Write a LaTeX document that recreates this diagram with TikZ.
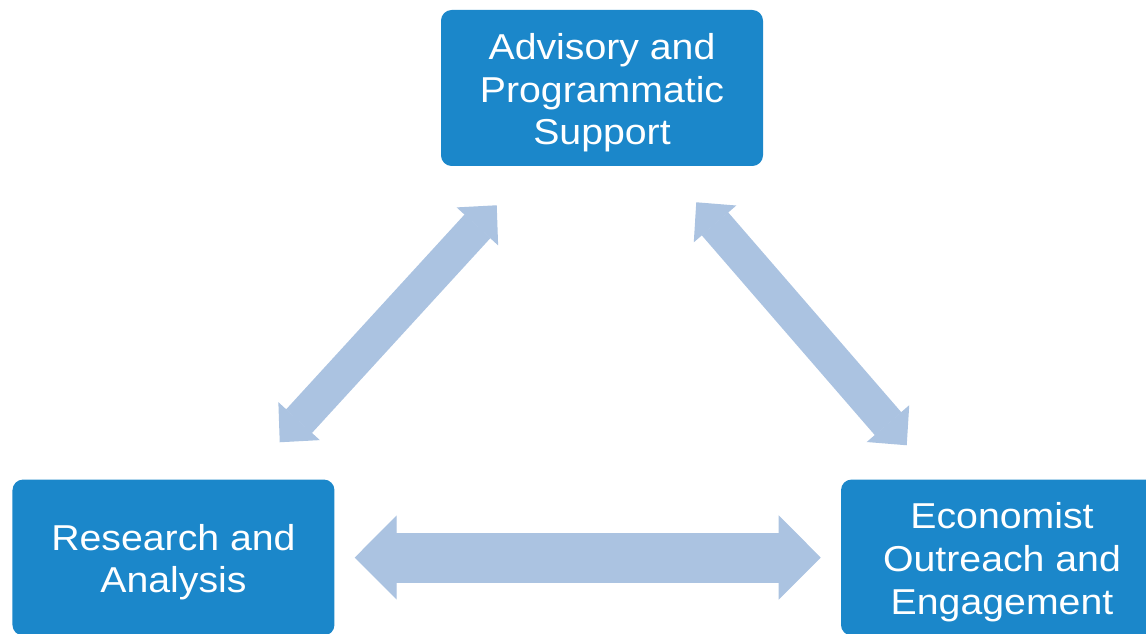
\documentclass[tikz,border=0pt]{standalone}
\usepackage{xcolor}
\usepackage{fontspec}
\setmainfont{Liberation Sans}[FakeStretch=1.09]
\usepackage{tikz}
\usetikzlibrary{arrows.meta}
\usetikzlibrary{positioning}
\definecolor{boxblue}{RGB}{27,135,202}
\definecolor{linkblue}{RGB}{171,195,225}
\newcommand{\toppad}{\rule{0pt}{26.7pt}}
\tikzstyle{unit} = [rectangle, rounded corners=8pt, minimum width=241.5pt, minimum height=117pt, inner sep=0pt, align=center, fill=boxblue, text=white, font=\fontsize{27pt}{32pt}\selectfont]
\tikzstyle{link} = [line width=26.25pt, draw=linkblue, <->, >={Triangle[length=21.5pt, width=42pt, line width=1pt]}]
\tikzstyle{widelink} = [line width=37.5pt, draw=linkblue, <->, >={Triangle[length=31.5pt, width=63pt, line width=1pt]}]

\begin{document}
\begin{tikzpicture}[x=0.75pt, y=0.75pt]
\useasboundingbox (0,0) rectangle (1146,-634);
\node (advisory) [unit] at (602,-88) {\toppad Advisory and\\Programmatic\\Support};
\node (research) [unit, below left=234.75pt and 79.5pt of advisory] {\toppad Research and\\Analysis};
\node (outreach) [unit, right=379.5pt of research] {\toppad Economist\\Outreach and\\Engagement};

\draw [link] ([shift={(42pt,-29.25pt)}]advisory.south west) -- ([shift={(-41.25pt,27.75pt)}]research.north east);
\draw [link] ([shift={(-50.25pt,-27pt)}]advisory.south east) -- ([shift={(49.5pt,25.5pt)}]outreach.north west);
\draw [widelink] ([shift={(15pt,0pt)}]research.east) -- ([shift={(-15pt,0pt)}]outreach.west);
\end{tikzpicture}
\end{document}
